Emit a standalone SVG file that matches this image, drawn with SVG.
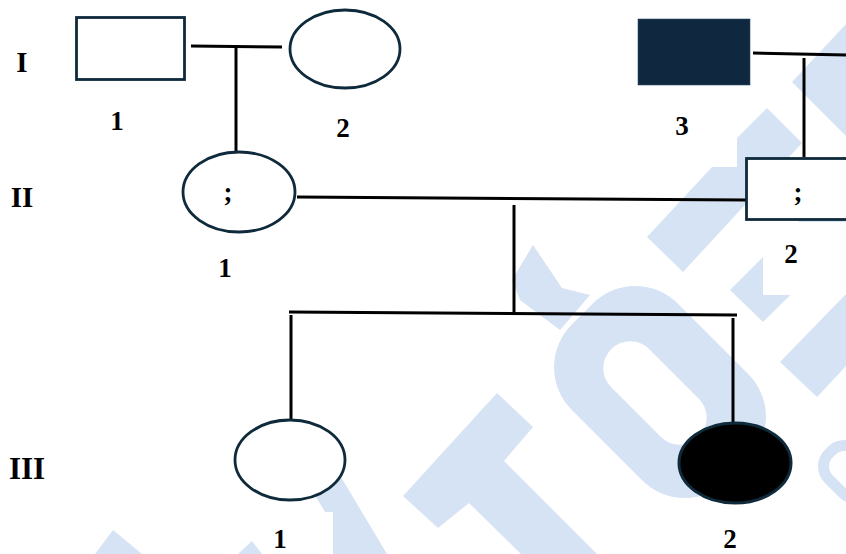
<svg xmlns="http://www.w3.org/2000/svg" width="846" height="554" viewBox="0 0 846 554">
  <style>
    .wm { fill: #d6e3f4; stroke: none; }
    .box { fill: #ffffff; stroke: none; }
    .person { fill: #ffffff; stroke: #0e2a3b; stroke-width: 2.8; }
    .affected-m { fill: #10283f; stroke: #17324b; stroke-width: 1.5; }
    .affected-f { fill: #000000; stroke: #0e2a3b; stroke-width: 3; }
    .link { fill: none; stroke: #000000; stroke-width: 3; }
    .lbl { font-family: "Liberation Serif", "Times New Roman", serif; font-weight: bold; font-size: 27px; fill: #000000; text-anchor: middle; }
    .gen { font-family: "Liberation Serif", "Times New Roman", serif; font-weight: bold; font-size: 29px; fill: #000000; text-anchor: middle; }
  </style>
  <rect x="0" y="0" width="846" height="554" fill="#ffffff"/>
  <g id="watermark">
    <polygon class="wm" points="792,82 846,24 846,136"/>
    <polygon class="wm" points="647,237 712,167 737,167 737,138 767,108 802,143 683,272"/>
    <polygon class="wm" points="730,290 763,257 846,174 846,240 763,322"/>
    <polygon class="wm" points="780,362 846,294 846,366 817,397"/>
    <rect class="wm" x="550" y="317" width="220" height="150" rx="60" transform="rotate(45 660 392)"/>
    <rect class="box" x="593" y="366" width="124" height="54" rx="27" transform="rotate(45 655 393)"/>
    <polygon class="wm" points="533,245 562,288 590,295 560,330 520,300 512,280"/>
    <polygon class="wm" points="403,496 497,393 533,427 504,461 597,554 521,554 469,503 438,528"/>
    <polygon class="wm" points="310,487 332,462 387,554 333,554 333,512 325,512"/>
    <polygon class="wm" points="95,554 113,530 142,554"/>
    <polygon class="wm" points="238,554 252,541 262,554"/>
    <rect x="822" y="452" width="56" height="40" rx="18" transform="rotate(45 850 472)" fill="none" stroke="#d6e3f4" stroke-width="11"/>
  </g>
  <g id="connectors">
    <polyline class="link" points="191,46 282,47"/>
    <polyline class="link" points="236,47 236,152"/>
    <polyline class="link" points="753,53 846,55"/>
    <polyline class="link" points="804,58 804,157"/>
    <polyline class="link" points="297,197 746,200"/>
    <polyline class="link" points="514,205 514,313"/>
    <polyline class="link" points="289,312 737,315"/>
    <polyline class="link" points="291,315 291,420"/>
    <polyline class="link" points="733,318 733,424"/>
  </g>
  <g id="gen-labels">
    <text class="gen" x="22" y="72">I</text>
    <text class="gen" x="22" y="207">II</text>
    <text class="gen" x="27" y="479" style="font-size:31px">III</text>
  </g>
  <g id="I-1">
    <rect class="person" x="76.5" y="17.5" width="108" height="62"/>
    <text class="lbl" x="117" y="130">1</text>
  </g>
  <g id="I-2">
    <ellipse class="person" cx="345" cy="49" rx="55" ry="39"/>
    <text class="lbl" x="343" y="137">2</text>
  </g>
  <g id="I-3">
    <rect class="affected-m" x="638.5" y="19.5" width="111" height="65"/>
    <text class="lbl" x="682" y="135">3</text>
  </g>
  <g id="II-1">
    <ellipse class="person" cx="239" cy="192" rx="56" ry="40"/>
    <text class="lbl" x="228" y="201">;</text>
    <text class="lbl" x="225" y="277">1</text>
  </g>
  <g id="II-2">
    <rect class="box" x="763" y="222" width="83" height="73"/>
    <rect class="person" x="746.5" y="158.5" width="110" height="61"/>
    <text class="lbl" x="798" y="201">;</text>
    <text class="lbl" x="791" y="263">2</text>
  </g>
  <g id="III-1">
    <ellipse class="person" cx="290" cy="460" rx="55" ry="40"/>
    <text class="lbl" x="280" y="548">1</text>
  </g>
  <g id="III-2">
    <ellipse class="affected-f" cx="735" cy="463" rx="56" ry="40"/>
    <text class="lbl" x="730" y="548">2</text>
  </g>
</svg>
